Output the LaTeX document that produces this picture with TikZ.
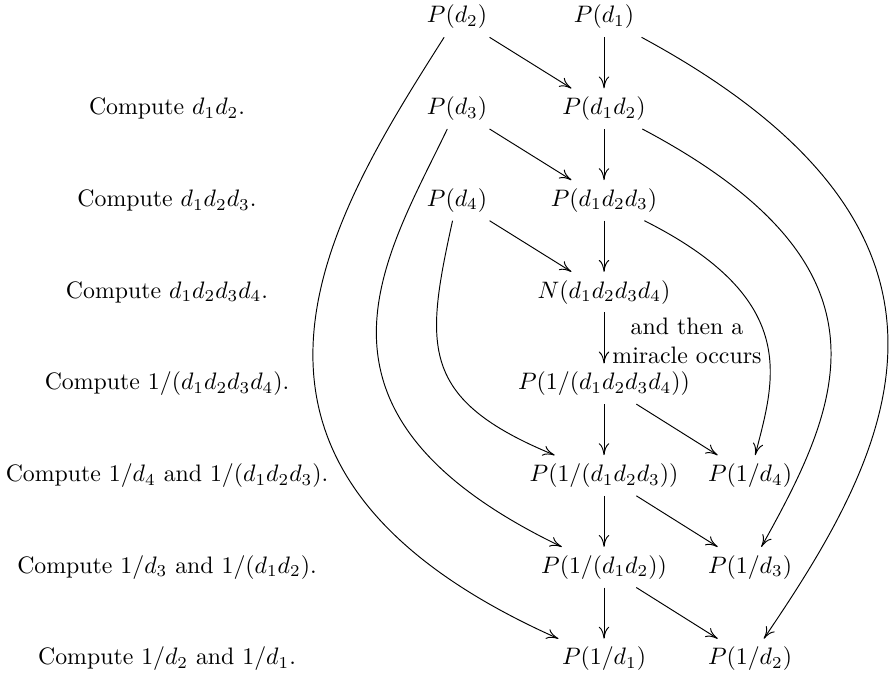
\documentclass[tikz,border=0pt]{standalone}
\usetikzlibrary{arrows.meta}
\begin{document}
\begin{tikzpicture}[x=0.42pt,y=0.42pt,>={To[length=5pt,width=4.4pt]},arr/.style={->}]
\useasboundingbox (0,0) rectangle (895,-673);
\node (d2) at (457,-17) {$P(d_2)$};
\node (d1) at (604,-17) {$P(d_1)$};
\node (c1) at (167,-108.7) {Compute $d_1d_2$.};
\node (d3) at (457,-108.7) {$P(d_3)$};
\node (d12) at (604,-108.7) {$P(d_1d_2)$};
\node (c2) at (167,-200.4) {Compute $d_1d_2d_3$.};
\node (d4) at (457,-200.4) {$P(d_4)$};
\node (d123) at (604,-200.4) {$P(d_1d_2d_3)$};
\node (c3) at (167,-292.1) {Compute $d_1d_2d_3d_4$.};
\node (n) at (604,-292.1) {$N(d_1d_2d_3d_4)$};
\node (c4) at (167,-383.8) {Compute $1/(d_1d_2d_3d_4)$.};
\node (i1234) at (604,-383.8) {$P(1/(d_1d_2d_3d_4))$};
\node (c5) at (167,-475.5) {Compute $1/d_4$ and $1/(d_1d_2d_3)$.};
\node (i123) at (604,-475.5) {$P(1/(d_1d_2d_3))$};
\node (i4) at (750,-475.5) {$P(1/d_4)$};
\node (c6) at (167,-567.2) {Compute $1/d_3$ and $1/(d_1d_2)$.};
\node (i12) at (604,-567.2) {$P(1/(d_1d_2))$};
\node (i3) at (750,-567.2) {$P(1/d_3)$};
\node (c7) at (167,-659) {Compute $1/d_2$ and $1/d_1$.};
\node (i1) at (604,-659) {$P(1/d_1)$};
\node (i2) at (750,-659) {$P(1/d_2)$};
\draw[arr] (d2) -- (d12);
\draw[arr] (d1) -- (d12);
\draw[arr] (d3) -- (d123);
\draw[arr] (d12) -- (d123);
\draw[arr] (d4) -- (n);
\draw[arr] (d123) -- (n);
\draw[arr] (n) -- node[right,align=center,yshift=-1.2pt]{and then a\\miracle occurs} (i1234);
\draw[arr] (i1234) -- (i123);
\draw[arr] (i1234) -- (i4);
\draw[arr] (i123) -- (i12);
\draw[arr] (i123) -- (i3);
\draw[arr] (i12) -- (i1);
\draw[arr] (i12) -- (i2);
\draw[arr] (d2) .. controls +(237.6:236) and +(156:474) .. (i1);
\draw[arr] (d1) .. controls +(-28.4:462) and +(55.8:247) .. (i2);
\draw[arr] (d3) .. controls +(244.4:166) and +(154.3:357) .. (i12);
\draw[arr] (d12) .. controls +(-27.9:339) and +(60.8:188.4) .. (i3);
\draw[arr] (d4) .. controls +(257.6:150) and +(157.6:200) .. (i123);
\draw[arr] (d123) .. controls +(-26.7:222.2) and +(75.7:97.9) .. (i4);
\end{tikzpicture}
\end{document}
